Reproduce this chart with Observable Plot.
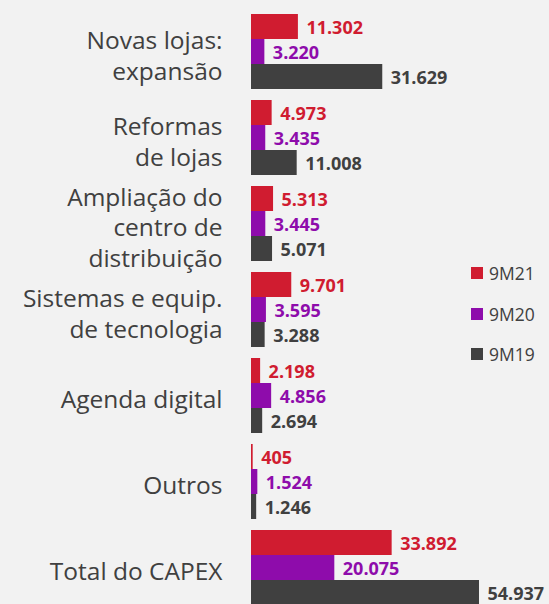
<!DOCTYPE html>
<html>
<head>
<meta charset="utf-8">
<script src="https://cdn.jsdelivr.net/npm/d3@7"></script>
<script src="https://cdn.jsdelivr.net/npm/@observablehq/plot@0.6"></script>
<style>
  html, body { margin: 0; padding: 0; background: #f2f2f2; overflow: hidden; }
  #wrap { position: relative; width: 549px; height: 604px; }
  #legend { position: absolute; left: 471px; top: 252.6px; font-family: "Open Sans", sans-serif; font-size: 17.5px; color: #404040; }
  #legend .row { height: 40.7px; display: flex; align-items: center; }
  #legend .sw { width: 12px; height: 12px; margin-right: 6px; }
</style>
</head>
<body>
<div id="wrap"><div id="legend"></div></div>
<script>
const categories = [
  "Novas lojas:\nexpansão",
  "Reformas\nde lojas",
  "Ampliação do\ncentro de\ndistribuição",
  "Sistemas e equip.\nde tecnologia",
  "Agenda digital",
  "Outros",
  "Total do CAPEX"
];
const series = ["9M21", "9M20", "9M19"];
const colors = ["#d01c30", "#8e0cab", "#404040"];
const v9M21 = [11302, 4973, 5313, 9701, 2198, 405, 33892];
const v9M20 = [3220, 3435, 3445, 3595, 4856, 1524, 20075];
const v9M19 = [31629, 11008, 5071, 3288, 2694, 1246, 54937];

const valuesBySeries = [v9M21, v9M20, v9M19];
const data = categories.flatMap((c, i) =>
  series.map((s, j) => ({category: c, series: s, value: valuesBySeries[j][i]}))
);

const locale = d3.formatLocale({decimal: ",", thousands: ".", grouping: [3], currency: ["R$", ""]});
const fmt = locale.format(",d");

const chart = Plot.plot({
  width: 549,
  height: 608,
  marginLeft: 251,
  marginRight: 49,
  marginTop: 11,
  marginBottom: 0,
  style: {background: "#f2f2f2", fontFamily: "Open Sans, sans-serif", overflow: "visible"},
  x: {domain: [0, 60000], axis: null},
  y: {domain: series, axis: null, padding: 0},
  fy: {domain: categories, axis: null, paddingInner: 0.111, paddingOuter: 0},
  color: {domain: series, range: colors},
  marks: [
    Plot.barX(data, {x: "value", y: "series", fy: "category", fill: "series"}),
    Plot.text(data, {
      x: "value", y: "series", fy: "category",
      text: d => fmt(d.value),
      fill: "series", textAnchor: "start", dx: 8, dy: 1,
      fontWeight: "bold", fontSize: 18
    }),
    Plot.text(categories, {
      fy: d => d, text: d => d,
      frameAnchor: "left", textAnchor: "end", dx: -29, dy: 3,
      fontSize: 24.5, lineHeight: 1.25, fill: "#404040"
    })
  ]
});
const wrap = document.getElementById("wrap");
wrap.insertBefore(chart, wrap.firstChild);

const legend = document.getElementById("legend");
series.forEach((s, i) => {
  const row = document.createElement("div");
  row.className = "row";
  const sw = document.createElement("span");
  sw.className = "sw";
  sw.style.background = colors[i];
  const t = document.createElement("span");
  t.textContent = s;
  row.appendChild(sw);
  row.appendChild(t);
  legend.appendChild(row);
});
</script>
</body>
</html>
